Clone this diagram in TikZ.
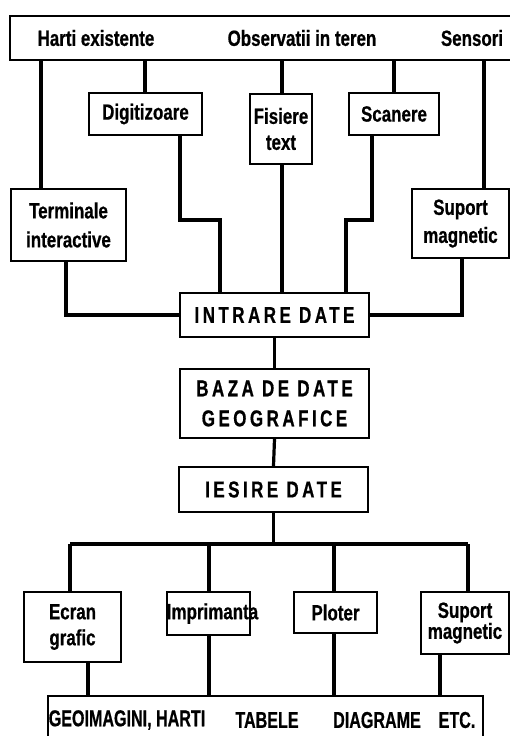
\documentclass[tikz,border=0pt]{standalone}
\usepackage{fontspec}
\setmainfont{Liberation Sans}
\newfontfamily\labfont{Liberation Sans}[FakeStretch=0.77,FakeBold=0.6]
\newfontfamily\spacedfont{Liberation Sans}[FakeStretch=0.74,LetterSpace=15,FakeBold=0.6]
\newfontfamily\botfont{Liberation Sans}[FakeStretch=0.7,FakeBold=0.6]
\begin{document}
\begin{tikzpicture}[x=1pt,y=-1pt,
  box/.style={draw,line width=2.3pt,inner sep=0pt,align=center,
    font=\labfont\bfseries\fontsize{22}{28}\selectfont},
  bigbox/.style={box,font=\spacedfont\bfseries\fontsize{23}{30}\selectfont},
  lab/.style={inner sep=0pt,font=\labfont\bfseries\fontsize{22}{26}\selectfont},
  blab/.style={inner sep=0pt,font=\botfont\bfseries\fontsize{23}{26}\selectfont},
  conn/.style={line width=3.2pt,line join=miter}]
\useasboundingbox (0,0) rectangle (510,736);
% boxes
\node[box,minimum width=502pt,minimum height=44pt] (src) at (261,38) {};
\node[lab] (harti) at (96,38) {Harti existente};
\node[lab] (obs) at (302,38) {Observatii in teren};
\node[lab] (sens) at (472,38) {Sensori};
\node[box,minimum width=115pt,minimum height=72pt,font=\labfont\bfseries\fontsize{22}{29}\selectfont] (term) at (68.5,225) {Terminale\\interactive};
\node[box,minimum width=113pt,minimum height=42pt] (digit) at (145.5,114) {Digitizoare};
\node[box,minimum width=62pt,minimum height=70pt,font=\labfont\bfseries\fontsize{22}{26}\selectfont] (fis) at (281,129) {Fisiere\\text};
\node[box,minimum width=90pt,minimum height=42pt] (scan) at (394,114) {Scanere};
\node[box,minimum width=97pt,minimum height=69pt] (supin) at (460.5,223.5) {Suport\\magnetic};
\node[bigbox,minimum width=189pt,minimum height=44pt] (intr) at (274.5,315) {INTRARE DATE};
\node[bigbox,minimum width=189pt,minimum height=69pt] (baza) at (274.5,403.5) {BAZA DE DATE\\GEOGRAFICE};
\node[bigbox,minimum width=189pt,minimum height=45pt] (ies) at (273.5,489.5) {IESIRE DATE};
\node[box,minimum width=97pt,minimum height=70pt,font=\labfont\bfseries\fontsize{22}{26}\selectfont] (ecran) at (72.5,627) {Ecran\\grafic};
\node[box,minimum width=83pt,minimum height=43pt] (impr) at (208.5,613.5) {\makebox[0pt][c]{\hspace*{8pt}Imprimanta}};
\node[box,minimum width=83pt,minimum height=41pt] (plot) at (335.5,612.5) {Ploter};
\node[box,minimum width=88pt,minimum height=62pt,font=\labfont\bfseries\fontsize{22}{21}\selectfont] (supout) at (465,623) {Suport\\magnetic};
\node[box,minimum width=435pt,minimum height=49pt] (bot) at (265.5,720.5) {};
\node[blab] (geo) at (127,720) {GEOIMAGINI, HARTI};
\node[blab] (tab) at (267,720) {TABELE};
\node[blab] (diag) at (377,720) {DIAGRAME};
\node[blab] (etc) at (457,720) {ETC.};
% guide coordinates
\coordinate (xa) at (41,0);
\coordinate (xb) at (145,0);
\coordinate (xc) at (282,0);
\coordinate (xd) at (394,0);
\coordinate (xe) at (484,0);
\coordinate (xf) at (180,0);
\coordinate (xg) at (220,0);
\coordinate (xh) at (372,0);
\coordinate (xi) at (346,0);
\coordinate (xj) at (66,0);
\coordinate (xk) at (462,0);
\coordinate (yb) at (0,220);
\coordinate (ys) at (0,315);
\coordinate (ybus) at (0,544);
\coordinate (xl) at (70,0);
\coordinate (xm) at (209,0);
\coordinate (xn) at (334,0);
\coordinate (xo) at (468,0);
\coordinate (xp) at (88,0);
\coordinate (xq) at (440,0);
% connectors top
\draw[conn] (src.south -| xa) -- (term.north -| xa);
\draw[conn] (src.south -| xb) -- (digit.north -| xb);
\draw[conn] (src.south -| xc) -- (fis.north -| xc);
\draw[conn] (src.south -| xd) -- (scan.north -| xd);
\draw[conn] (src.south -| xe) -- (supin.north -| xe);
% into INTRARE
\draw[conn] (digit.south -| xf) -- (xf |- yb) -- (xg |- yb) -- (intr.north -| xg);
\draw[conn] (fis.south -| xc) -- (intr.north -| xc);
\draw[conn] (scan.south -| xh) -- (xh |- yb) -- (xi |- yb) -- (intr.north -| xi);
\draw[conn] (term.south -| xj) -- (xj |- ys) -- (intr.west);
\draw[conn] (supin.south -| xk) -- (xk |- ys) -- (intr.east);
% spine
\draw[conn] (intr.south) -- (baza.north);
\draw[conn] (baza.south) -- (ies.north);
\draw[conn] (ies.south) -- (ies.south |- ybus);
\draw[conn] (xl |- ybus) -- (xo |- ybus);
\draw[conn] (xl |- ybus) -- (ecran.north -| xl);
\draw[conn] (xm |- ybus) -- (impr.north -| xm);
\draw[conn] (xn |- ybus) -- (plot.north -| xn);
\draw[conn] (xo |- ybus) -- (supout.north -| xo);
% outputs
\draw[conn] (ecran.south -| xp) -- (bot.north -| xp);
\draw[conn] (impr.south -| xm) -- (bot.north -| xm);
\draw[conn] (plot.south -| xn) -- (bot.north -| xn);
\draw[conn] (supout.south -| xq) -- (bot.north -| xq);
\end{tikzpicture}
\end{document}
